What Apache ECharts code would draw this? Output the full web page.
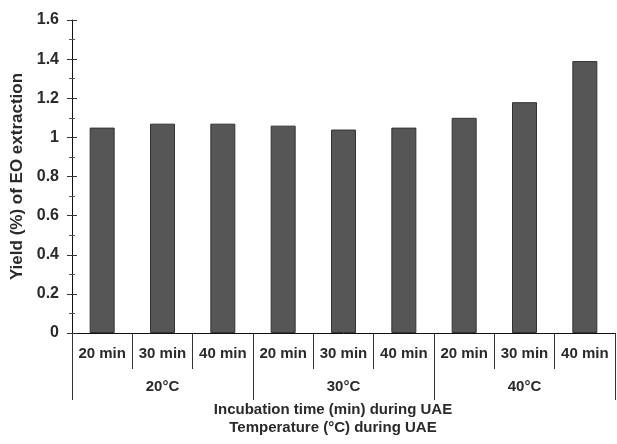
<!DOCTYPE html>
<html>
<head>
<meta charset="utf-8">
<script src="https://cdn.jsdelivr.net/npm/echarts@6/dist/echarts.min.js"></script>
<style>
  html, body { margin: 0; padding: 0; background: #fff; }
  #chart { width: 617px; height: 444px; }
</style>
</head>
<body>
<div id="chart"></div>
<script>
// incubation time per bar, and the temperature groups below them
var times = ['20 min', '30 min', '40 min', '20 min', '30 min', '40 min', '20 min', '30 min', '40 min'];
var temps = ['20°C', '30°C', '40°C'];
var yields = [1.05, 1.07, 1.07, 1.06, 1.04, 1.05, 1.10, 1.18, 1.39];
var yTicks = [0, 0.2, 0.4, 0.6, 0.8, 1, 1.2, 1.4, 1.6];

var font = 'Liberation Sans, Arial, sans-serif';
var ink = '#2a2a2a';

var myChart = echarts.init(document.getElementById('chart'));

var option = {
    animation: false,
    grid: { left: 72, right: 2, top: 20, bottom: 111 },
    xAxis: [
        {
            type: 'category',
            data: times,
            position: 'bottom',
            axisLine: { lineStyle: { color: '#111', width: 1 } },
            axisTick: { show: true, interval: 0, length: 36, lineStyle: { color: '#333' } },
            axisLabel: { interval: 0, margin: 13, fontSize: 15, fontWeight: 'bold', color: ink, fontFamily: font }
        },
        {
            type: 'category',
            data: temps,
            position: 'bottom',
            axisLine: { show: false },
            axisTick: { show: true, interval: 0, length: 67, lineStyle: { color: '#333' } },
            axisLabel: { interval: 0, margin: 46, fontSize: 15, fontWeight: 'bold', color: ink, fontFamily: font }
        }
    ],
    yAxis: [
        {
            type: 'value',
            min: 0,
            max: yTicks[yTicks.length - 1],
            interval: 0.2,
            name: 'Yield (%) of EO extraction',
            nameLocation: 'middle',
            nameGap: 40,
            nameTextStyle: { fontSize: 17, fontWeight: 'bold', color: ink, fontFamily: font },
            axisLine: { show: true, lineStyle: { color: '#111' } },
            axisTick: { show: true, length: 5, lineStyle: { color: '#333' } },
            minorTick: { show: true, splitNumber: 2, length: 3, lineStyle: { color: '#555' } },
            splitLine: { show: false },
            axisLabel: { margin: 13, fontSize: 16, fontWeight: 'bold', color: ink, fontFamily: font }
        },
        {
            // same scale again, ticks pointing inward so they cross the axis line
            type: 'value',
            position: 'left',
            min: 0,
            max: yTicks[yTicks.length - 1],
            interval: 0.2,
            axisLine: { show: false },
            axisTick: { show: true, inside: true, length: 5, lineStyle: { color: '#333' } },
            minorTick: { show: true, splitNumber: 2, length: 3, lineStyle: { color: '#555' } },
            splitLine: { show: false },
            axisLabel: { show: false }
        }
    ],
    graphic: [
        {
            type: 'text', x: 333, y: 410,
            style: { text: 'Incubation time (min) during UAE', fill: ink, font: 'bold 15px ' + font, textAlign: 'center', textVerticalAlign: 'middle' }
        },
        {
            type: 'text', x: 333, y: 428,
            style: { text: 'Temperature (°C) during UAE', fill: ink, font: 'bold 15px ' + font, textAlign: 'center', textVerticalAlign: 'middle' }
        }
    ],
    series: [
        {
            type: 'bar',
            xAxisIndex: 0,
            yAxisIndex: 0,
            data: yields,
            barWidth: 25,
            itemStyle: { color: '#565656', borderColor: '#333', borderWidth: 1 }
        }
    ]
};

myChart.setOption(option);
</script>
</body>
</html>
